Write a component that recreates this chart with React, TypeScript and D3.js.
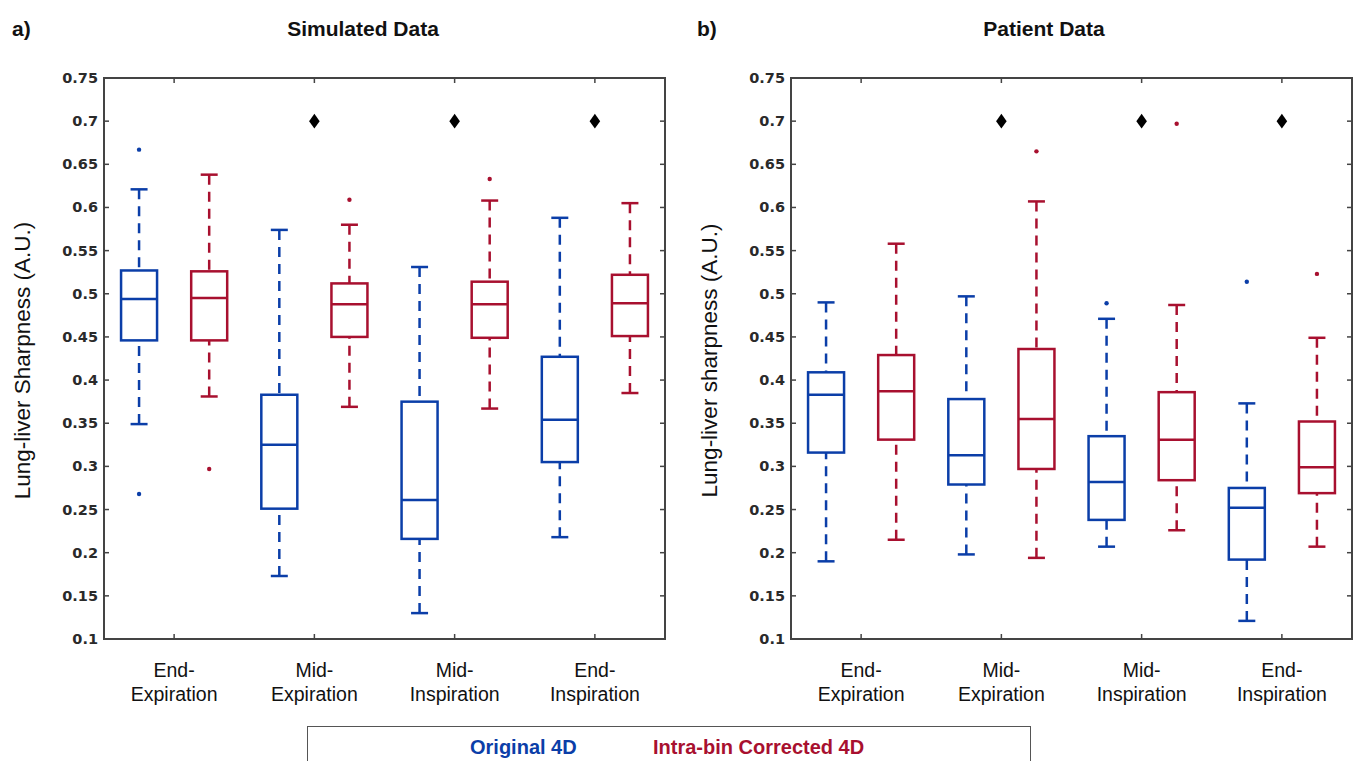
import React, { useEffect, useRef } from 'react';
import * as d3 from 'd3';

const W = 1357;
const H = 761;

// categories on the x axis (two lines each)
const categories = [
  ['End-', 'Expiration'],
  ['Mid-', 'Expiration'],
  ['Mid-', 'Inspiration'],
  ['End-', 'Inspiration'],
];
const yTicks = [0.1, 0.15, 0.2, 0.25, 0.3, 0.35, 0.4, 0.45, 0.5, 0.55, 0.6, 0.65, 0.7, 0.75];
const seriesNames = ['Original 4D', 'Intra-bin Corrected 4D'];

// a) simulated data, original 4D
const simOrigLow = [0.349, 0.173, 0.130, 0.218];
const simOrigQ1 = [0.446, 0.251, 0.216, 0.305];
const simOrigMed = [0.494, 0.325, 0.261, 0.354];
const simOrigQ3 = [0.527, 0.383, 0.375, 0.427];
const simOrigHigh = [0.621, 0.574, 0.531, 0.588];
const simOrigOut = [[0.667, 0.268], [], [], []];

// a) simulated data, intra-bin corrected 4D
const simCorrLow = [0.381, 0.369, 0.367, 0.385];
const simCorrQ1 = [0.446, 0.450, 0.449, 0.451];
const simCorrMed = [0.495, 0.488, 0.488, 0.489];
const simCorrQ3 = [0.526, 0.512, 0.514, 0.522];
const simCorrHigh = [0.638, 0.580, 0.608, 0.605];
const simCorrOut = [[0.297], [0.609], [0.633], []];

// b) patient data, original 4D
const patOrigLow = [0.190, 0.198, 0.207, 0.121];
const patOrigQ1 = [0.316, 0.279, 0.238, 0.192];
const patOrigMed = [0.383, 0.313, 0.282, 0.252];
const patOrigQ3 = [0.409, 0.378, 0.335, 0.275];
const patOrigHigh = [0.490, 0.497, 0.471, 0.373];
const patOrigOut = [[], [], [0.489], [0.514]];

// b) patient data, intra-bin corrected 4D
const patCorrLow = [0.215, 0.194, 0.226, 0.207];
const patCorrQ1 = [0.331, 0.297, 0.284, 0.269];
const patCorrMed = [0.387, 0.355, 0.331, 0.299];
const patCorrQ3 = [0.429, 0.436, 0.386, 0.352];
const patCorrHigh = [0.558, 0.607, 0.487, 0.449];
const patCorrOut = [[], [0.665], [0.697], [0.523]];

// significance markers (diamonds)
const markerCats = [1, 2, 3];
const markerValue = 0.7;

const BLUE = '#0b3ea8';
const RED = '#a8102f';
const colors = [BLUE, RED];

const makeSeries = (low, q1, med, q3, high, out) =>
  low.map((_, i) => ({ low: low[i], q1: q1[i], med: med[i], q3: q3[i], high: high[i], out: out[i] }));

const panels = [
  {
    tag: 'a)',
    title: 'Simulated Data',
    ylabel: 'Lung-liver Sharpness (A.U.)',
    series: [
      makeSeries(simOrigLow, simOrigQ1, simOrigMed, simOrigQ3, simOrigHigh, simOrigOut),
      makeSeries(simCorrLow, simCorrQ1, simCorrMed, simCorrQ3, simCorrHigh, simCorrOut),
    ],
  },
  {
    tag: 'b)',
    title: 'Patient Data',
    ylabel: 'Lung-liver sharpness (A.U.)',
    series: [
      makeSeries(patOrigLow, patOrigQ1, patOrigMed, patOrigQ3, patOrigHigh, patOrigOut),
      makeSeries(patCorrLow, patCorrQ1, patCorrMed, patCorrQ3, patCorrHigh, patCorrOut),
    ],
  },
];

// layout of the two panels
const layout = [
  { left: 104, tagX: 12, titleX: 363, ylabelX: 30 },
  { left: 791, tagX: 697, titleX: 1044, ylabelX: 717 },
];
const plotW = 561;
const plotTop = 78;
const plotBottom = 639;

const App = () => {
  const svgRef = useRef(null);

  useEffect(() => {
    const svg = d3.select(svgRef.current);
    svg.selectAll('*').remove();

    svg.append('rect').attr('width', W).attr('height', H).attr('fill', '#fff');

    const y = d3.scaleLinear().domain([0.1, 0.75]).range([plotBottom, plotTop]);

    panels.forEach((p, pi) => {
      const L = layout[pi];
      const g = svg.append('g');
      const x = d3.scaleBand().domain(d3.range(categories.length)).range([L.left, L.left + plotW]);
      const bw = x.bandwidth();
      const sub = d3.scaleBand().domain([0, 1]).range([-bw / 2, bw / 2]);
      const cx = (c, s) => x(c) + bw / 2 + sub(s) + sub.bandwidth() / 2;
      const boxW = 36;
      const capW = 17;

      // tag + title
      g.append('text')
        .attr('x', L.tagX).attr('y', 36)
        .style('font-family', '"Liberation Sans", Arial, sans-serif')
        .style('font-weight', 'bold').style('font-size', '21px')
        .attr('fill', '#111')
        .text(p.tag);
      g.append('text')
        .attr('x', L.titleX).attr('y', 36)
        .attr('text-anchor', 'middle')
        .style('font-family', '"Liberation Sans", Arial, sans-serif')
        .style('font-weight', 'bold').style('font-size', '21px')
        .attr('fill', '#111')
        .text(p.title);

      // y label
      g.append('text')
        .attr('transform', `translate(${L.ylabelX},${(plotTop + plotBottom) / 2 + 2}) rotate(-90)`)
        .attr('text-anchor', 'middle')
        .style('font-family', '"Liberation Sans", Arial, sans-serif')
        .style('font-size', '22.5px')
        .attr('fill', '#111')
        .text(p.ylabel);

      // frame
      g.append('rect')
        .attr('x', L.left).attr('y', plotTop)
        .attr('width', plotW).attr('height', plotBottom - plotTop)
        .attr('fill', 'none').attr('stroke', '#444').attr('stroke-width', 2);

      // y ticks (left + right, inward)
      yTicks.forEach(t => {
        g.append('line')
          .attr('x1', L.left).attr('x2', L.left + 5)
          .attr('y1', y(t)).attr('y2', y(t))
          .attr('stroke', '#444').attr('stroke-width', 1.5);
        g.append('line')
          .attr('x1', L.left + plotW).attr('x2', L.left + plotW - 5)
          .attr('y1', y(t)).attr('y2', y(t))
          .attr('stroke', '#444').attr('stroke-width', 1.5);
        g.append('text')
          .attr('x', L.left - 6).attr('y', y(t) + 5)
          .attr('text-anchor', 'end')
          .style('font-family', '"DejaVu Sans", Verdana, sans-serif')
          .style('font-weight', 'bold').style('font-size', '14.5px')
          .attr('fill', '#2a2a2a')
          .text(String(+t.toFixed(2)));
      });

      // x ticks (bottom + top, inward) and labels
      categories.forEach((lines, c) => {
        const xc = x(c) + bw / 2;
        g.append('line')
          .attr('x1', xc).attr('x2', xc)
          .attr('y1', plotBottom).attr('y2', plotBottom - 5)
          .attr('stroke', '#444').attr('stroke-width', 1.5);
        g.append('line')
          .attr('x1', xc).attr('x2', xc)
          .attr('y1', plotTop).attr('y2', plotTop + 5)
          .attr('stroke', '#444').attr('stroke-width', 1.5);
        lines.forEach((ln, li) => {
          g.append('text')
            .attr('x', xc).attr('y', 677 + li * 24)
            .attr('text-anchor', 'middle')
            .style('font-family', '"Liberation Sans", Arial, sans-serif')
            .style('font-size', '19.5px')
            .attr('fill', '#111')
            .text(ln);
        });
      });

      // boxes
      p.series.forEach((ser, s) => {
        const col = colors[s];
        ser.forEach((d, c) => {
          const xc = cx(c, s);
          // whiskers (dashed)
          [[d.high, d.q3], [d.low, d.q1]].forEach(([a, b]) => {
            g.append('line')
              .attr('x1', xc).attr('x2', xc)
              .attr('y1', y(a)).attr('y2', y(b))
              .attr('stroke', col).attr('stroke-width', 2.5)
              .attr('stroke-dasharray', '10,7');
            g.append('line')
              .attr('x1', xc - capW / 2).attr('x2', xc + capW / 2)
              .attr('y1', y(a)).attr('y2', y(a))
              .attr('stroke', col).attr('stroke-width', 2.5);
          });
          g.append('rect')
            .attr('x', xc - boxW / 2).attr('y', y(d.q3))
            .attr('width', boxW).attr('height', y(d.q1) - y(d.q3))
            .attr('fill', 'none').attr('stroke', col).attr('stroke-width', 2.5);
          g.append('line')
            .attr('x1', xc - boxW / 2).attr('x2', xc + boxW / 2)
            .attr('y1', y(d.med)).attr('y2', y(d.med))
            .attr('stroke', col).attr('stroke-width', 2.5);
          d.out.forEach(o => {
            g.append('circle')
              .attr('cx', xc).attr('cy', y(o)).attr('r', 2.2)
              .attr('fill', col);
          });
        });
      });

      // diamonds
      const diamond = d3.symbol().type(d3.symbolDiamond).size(62);
      markerCats.forEach(c => {
        g.append('path')
          .attr('d', diamond())
          .attr('transform', `translate(${x(c) + bw / 2},${y(markerValue)}) scale(1.25,1)`)
          .attr('fill', '#000');
      });
    });

    // legend
    const lg = svg.append('g');
    lg.append('rect')
      .attr('x', 307.5).attr('y', 726.5).attr('width', 723).attr('height', 60)
      .attr('fill', '#fff').attr('stroke', '#555').attr('stroke-width', 1);
    const legendX = [470, 653];
    seriesNames.forEach((name, i) => {
      lg.append('text')
        .attr('x', legendX[i]).attr('y', 754)
        .style('font-family', '"Liberation Sans", Arial, sans-serif')
        .style('font-weight', 'bold').style('font-size', '20px')
        .attr('fill', colors[i])
        .text(name);
    });
  }, []);

  return (
    <svg
      ref={svgRef}
      width={W}
      height={H}
      style={{ position: 'absolute', left: 0, top: 0, display: 'block' }}
    />
  );
};

export default App;
